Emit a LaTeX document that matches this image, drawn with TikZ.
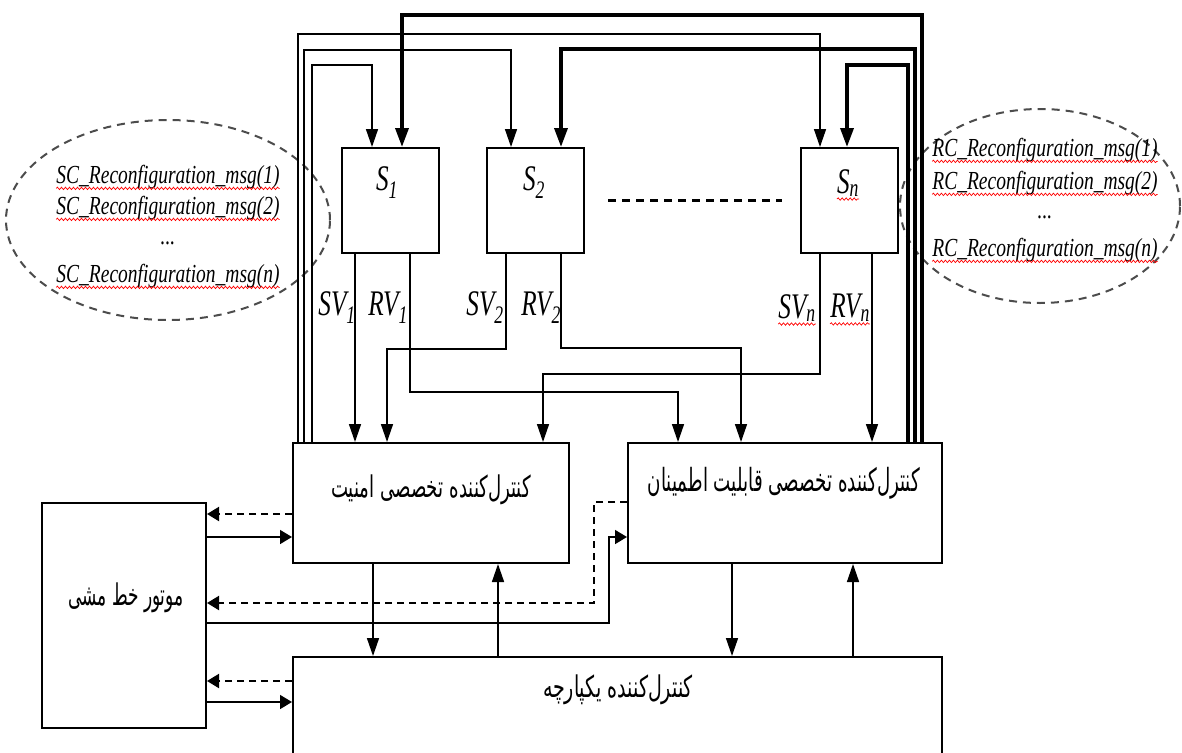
\documentclass[tikz,border=0pt]{standalone}
\usepackage{graphicx}
\usepackage{fontspec}
\setmainfont{Liberation Serif}
\newfontfamily\arabicfont[Script=Arabic]{DejaVu Sans}
\TeXXeTstate=1
\usetikzlibrary{arrows.meta,decorations.pathmorphing,shapes.geometric}
\tikzset{
  box/.style={draw, line width=2pt, inner sep=0pt, anchor=north west},
  sig/.style={line width=1.5pt},
  thk/.style={line width=3.5pt},
  varr/.style={-{Triangle[length=18pt,width=12pt]}},
  varrthk/.style={-{Triangle[length=19pt,width=13pt]}},
  harr/.style={-{Triangle[length=12pt,width=14pt]}},
  dsh/.style={line width=2pt, dash pattern=on 7pt off 5pt},
  ell/.style={draw=black!70, line width=2pt, dash pattern=on 8pt off 6pt, ellipse, inner sep=0pt},
  squig/.style={draw=red, line width=0.7pt, decorate, decoration={snake,segment length=4pt,amplitude=1.2pt}},
  lbl/.style={inner sep=0pt},
}
\newcommand{\lab}[2]{\scalebox{0.7}[1]{\fontsize{36}{42}\selectfont\itshape #1\textsubscript{#2}}}
\newcommand{\msgtxt}[1]{\scalebox{0.75}[1]{\fontsize{26}{30}\selectfont\itshape #1}}
\newcommand{\fa}[3]{\resizebox*{#1}{#2}{\arabicfont #3}}
\begin{document}
\begin{tikzpicture}[x=1pt,y=-1pt]
\useasboundingbox (0,0) rectangle (1182,752);
% ellipses
\node[ell, minimum width=324pt, minimum height=200pt] (le) at (168,220) {};
\node[ell, minimum width=280pt, minimum height=194pt] (re) at (1040,206) {};
% boxes
\node[box, minimum width=97pt, minimum height=105pt] (s1) at (341,147) {};
\node[box, minimum width=97pt, minimum height=105pt] (s2) at (486,147) {};
\node[box, minimum width=97pt, minimum height=105pt] (sn) at (800,147) {};
\node[box, minimum width=276pt, minimum height=120pt] (sec) at (292,442) {};
\node[box, minimum width=314pt, minimum height=120pt] (rel) at (627,442) {};
\node[box, minimum width=649pt, minimum height=104pt] (int) at (292,656) {};
\node[box, minimum width=164pt, minimum height=225pt] (mot) at (41,502) {};
% box labels
\node[lbl] (s1l) at (387,183) {\lab{S}{1}};
\node[lbl] (s2l) at (534,183) {\lab{S}{2}};
\node[lbl] (snl) at (848,183) {\lab{S}{n}};
\node[lbl] (sect) at (431,490) {\fa{200pt}{30pt}{\beginR کنترل^^^^200cکننده تخصصی امنیت\endR}};
\node[lbl] (relt) at (784,483) {\fa{272pt}{32pt}{\beginR کنترل^^^^200cکننده تخصصی قابلیت اطمینان\endR}};
\node[lbl] (intt) at (618,690) {\fa{150pt}{30pt}{\beginR کنترل^^^^200cکننده یکپارچه\endR}};
\node[lbl] (mott) at (126,598) {\fa{115pt}{30pt}{\beginR موتور خط مشی\endR}};
% dashed between S2 and Sn
\draw[line width=3pt, dash pattern=on 8pt off 6pt] ([xshift=23pt]s2.east) -- ([xshift=-18pt]sn.west);
% message texts
\node[lbl] (sc1) at (168,177) {\msgtxt{SC\_Reconfiguration\_msg(1)}};
\node[lbl] (sc2) at (168,208) {\msgtxt{SC\_Reconfiguration\_msg(2)}};
\node[lbl] (scd) at (168,243) {\msgtxt{...}};
\node[lbl] (scn) at (168,276) {\msgtxt{SC\_Reconfiguration\_msg(n)}};
\node[lbl] (rc1) at (1045,150) {\msgtxt{RC\_Reconfiguration\_msg(1)}};
\node[lbl] (rc2) at (1045,183) {\msgtxt{RC\_Reconfiguration\_msg(2)}};
\node[lbl] (rcd) at (1045,217) {\msgtxt{...}};
\node[lbl] (rcn) at (1045,250) {\msgtxt{RC\_Reconfiguration\_msg(n)}};
\foreach \n in {sc1,sc2,scn,rc1,rc2,rcn}{
  \draw[squig] ([yshift=-5pt]\n.base west) -- ([yshift=-5pt]\n.base east);
}
% signal labels
\node[lbl] (sv1l) at (337,308) {\lab{SV}{1}};
\node[lbl] (rv1l) at (388,308) {\lab{RV}{1}};
\node[lbl] (sv2l) at (485,308) {\lab{SV}{2}};
\node[lbl] (rv2l) at (541,308) {\lab{RV}{2}};
\node[lbl] (svnl) at (797,308) {\lab{SV}{n}};
\node[lbl] (rvnl) at (850,308) {\lab{RV}{n}};
\foreach \n in {svnl,rvnl,snl}{
  \draw[squig] ([yshift=-6pt]\n.base west) -- ([yshift=-6pt]\n.base east);
}
% signal connectors
\coordinate (sv1) at ([xshift=14pt]s1.south west);
\coordinate (rv1) at ([xshift=69pt]s1.south west);
\coordinate (sv2) at ([xshift=20pt]s2.south west);
\coordinate (rv2) at ([xshift=75pt]s2.south west);
\coordinate (svn) at ([xshift=20pt]sn.south west);
\coordinate (rvn) at ([xshift=72pt]sn.south west);
\draw[sig,varr] (sv1) -- (sv1 |- sec.north);
\draw[sig,varr] (rv1) -- ++(0,138) -| ([xshift=51pt]rel.north west);
\draw[sig,varr] (sv2) -- ++(0,95) -| ([xshift=95pt]sec.north west);
\draw[sig,varr] (rv2) -- ++(0,94) -| ([xshift=114pt]rel.north west);
\draw[sig,varr] (svn) -- ++(0,120) -| ([xshift=251pt]sec.north west);
\draw[sig,varr] (rvn) -- (rvn |- rel.north);
% top feedback lines
\draw[thk,varrthk] ([xshift=295pt]rel.north west) -- ++(0,-427) -| ([xshift=61pt]s1.north west);
\draw[thk,varrthk] ([xshift=288pt]rel.north west) -- ++(0,-393) -| ([xshift=75pt]s2.north west);
\draw[thk,varrthk] ([xshift=281pt]rel.north west) -- ++(0,-377) -| ([xshift=47pt]sn.north west);
\draw[sig,varr] ([xshift=6pt]sec.north west) -- ++(0,-408) -| ([xshift=20pt]sn.north west);
\draw[sig,varr] ([xshift=12pt]sec.north west) -- ++(0,-392) -| ([xshift=25pt]s2.north west);
\draw[sig,varr] ([xshift=20pt]sec.north west) -- ++(0,-377) -| ([xshift=31pt]s1.north west);
% vertical links with integrated controller
\coordinate (a1) at ([xshift=81pt]sec.south west);
\coordinate (a2) at ([xshift=206pt]sec.south west);
\coordinate (a3) at ([xshift=105pt]rel.south west);
\coordinate (a4) at ([xshift=226pt]rel.south west);
\draw[sig,varr] (a1) -- (a1 |- int.north);
\draw[sig,varr] (a2 |- int.north) -- (a2);
\draw[sig,varr] (a3) -- (a3 |- int.north);
\draw[sig,varr] (a4 |- int.north) -- (a4);
% links with policy engine
\coordinate (m1) at ([yshift=-12pt]mot.north east);
\coordinate (m2) at ([yshift=-35pt]mot.north east);
\coordinate (m3) at ([yshift=-101pt]mot.north east);
\coordinate (m4) at ([yshift=-121pt]mot.north east);
\coordinate (m5) at ([yshift=-179pt]mot.north east);
\coordinate (m6) at ([yshift=-200pt]mot.north east);
\draw[dsh,harr] (m1 -| sec.west) -- (m1);
\draw[sig,harr] (m2) -- (m2 -| sec.west);
\draw[dsh,harr] ([yshift=-60pt]rel.north west) -- ++(-33,0) |- (m3);
\draw[sig,harr] (m4) -- ++(402,0) |- ([yshift=-95pt]rel.north west);
\draw[dsh,harr] (m5 -| int.west) -- (m5);
\draw[sig,harr] (m6) -- (m6 -| int.west);
\end{tikzpicture}
\end{document}
